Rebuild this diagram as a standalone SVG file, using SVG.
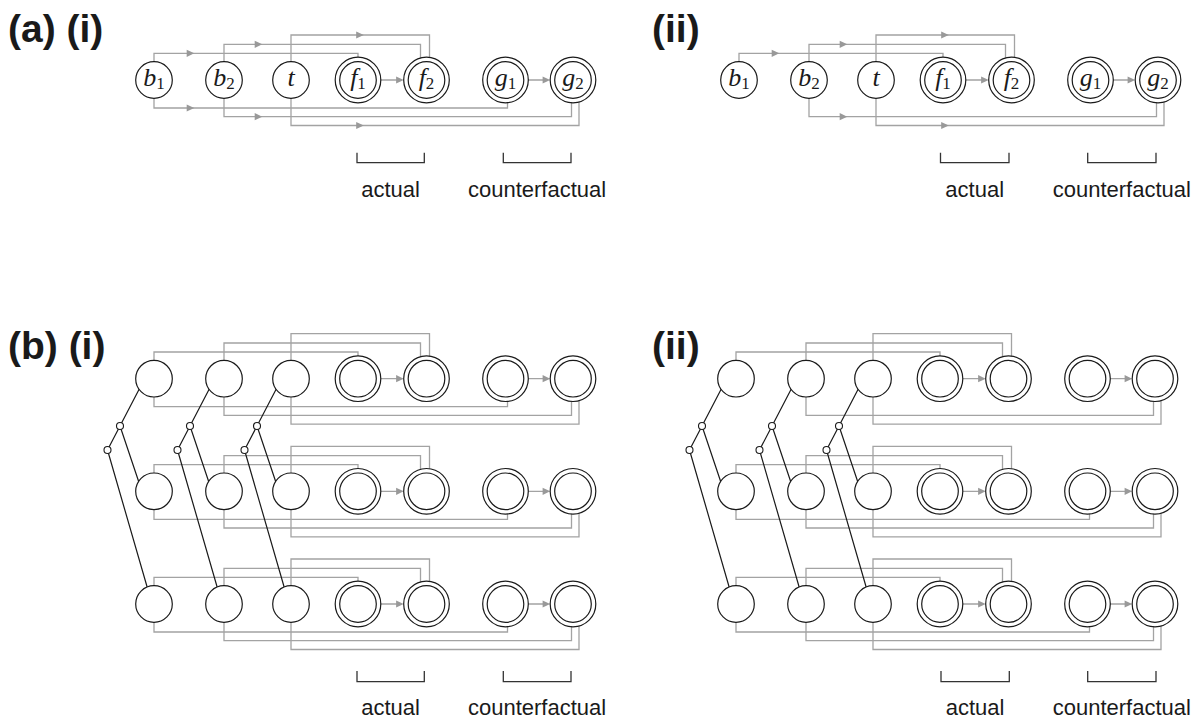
<svg xmlns="http://www.w3.org/2000/svg" xmlns:xlink="http://www.w3.org/1999/xlink" width="1200" height="720" viewBox="0 0 1200 720">
<style>
.e{fill:none;stroke:#a3a3a3;stroke-width:1.3}
.k{fill:none;stroke:#1a1a1a;stroke-width:1.2}
.br{fill:none;stroke:#333;stroke-width:1.3}
.ttl{font-family:"Liberation Sans",Arial,sans-serif;font-weight:bold;font-size:39px;fill:#1a1a1a}
.cap{font-family:"Liberation Sans",Arial,sans-serif;font-size:22px;fill:#1a1a1a;text-anchor:middle}
.ml{font-family:"Liberation Serif","Times New Roman",serif;font-style:italic;font-size:26px;fill:#1a1a1a;text-anchor:middle}
.sub{font-style:normal;font-size:17px}
</style>
<defs>
<circle id="sn" r="18.3" fill="#fff" stroke="#1a1a1a" stroke-width="1.2"/>
<g id="dn" fill="#fff" stroke="#1a1a1a" stroke-width="1.2"><circle r="22.8"/><circle r="18.3"/></g>
<circle id="tn" r="3.5" fill="#fff" stroke="#1a1a1a" stroke-width="1.1"/>
<path id="ah" d="M3.8,0 L-3.8,-3.6 L-3.8,3.6 Z" fill="#999"/>
</defs>
<rect width="1200" height="720" fill="#fff"/>

<g id="titles">
<text class="ttl" x="8" y="42">(a) (i)</text>
<text class="ttl" x="652" y="42">(ii)</text>
<text class="ttl" x="8" y="359">(b) (i)</text>
<text class="ttl" x="652" y="359">(ii)</text>
</g>

<g id="connectors">
<!-- (a)(i) -->
<path class="e" d="M154,80 V53.3 H358 V80 M224,80 V44.3 H420.5 V80 M291,80 V35 H429.5 V80 M154,80 V108 H507.5 V80 M224,80 V116.7 H571.5 V80 M291,80 V125.5 H579 V80 M358,80 H400 M505.5,80 H547"/>
<use xlink:href="#ah" x="190.5" y="53.3"/><use xlink:href="#ah" x="258.5" y="44.3"/><use xlink:href="#ah" x="360" y="35"/>
<use xlink:href="#ah" x="190.5" y="108"/><use xlink:href="#ah" x="258.5" y="116.7"/><use xlink:href="#ah" x="360" y="125.5"/>
<use xlink:href="#ah" x="399.9" y="80"/><use xlink:href="#ah" x="546.4" y="80"/>
<!-- (a)(ii) -->
<path class="e" d="M739,80 V53.3 H943 V80 M809,80 V44.3 H1005.5 V80 M876,80 V35 H1014.5 V80 M809,80 V116.7 H1156.5 V80 M876,80 V125.5 H1164 V80 M943,80 H985 M1090.5,80 H1132"/>
<use xlink:href="#ah" x="775.5" y="53.3"/><use xlink:href="#ah" x="843.5" y="44.3"/><use xlink:href="#ah" x="945" y="35"/>
<use xlink:href="#ah" x="843.5" y="116.7"/><use xlink:href="#ah" x="945" y="125.5"/>
<use xlink:href="#ah" x="984.9" y="80"/><use xlink:href="#ah" x="1131.4" y="80"/>
<!-- (b)(i) rows -->
<path class="e" d="M154,378.7 V352 H358 V378.7 M224,378.7 V343 H420.5 V378.7 M291,378.7 V333.7 H429.5 V378.7 M154,378.7 V406.7 H507.5 V378.7 M224,378.7 V415.4 H571.5 V378.7 M291,378.7 V424.2 H579 V378.7 M358,378.7 H400 M505.5,378.7 H547"/>
<path class="e" d="M154,491.3 V464.6 H358 V491.3 M224,491.3 V455.6 H420.5 V491.3 M291,491.3 V446.3 H429.5 V491.3 M154,491.3 V519.3 H507.5 V491.3 M224,491.3 V528 H571.5 V491.3 M291,491.3 V536.8 H579 V491.3 M358,491.3 H400 M505.5,491.3 H547"/>
<path class="e" d="M154,604 V577.3 H358 V604 M224,604 V568.3 H420.5 V604 M291,604 V559 H429.5 V604 M154,604 V632 H507.5 V604 M224,604 V640.7 H571.5 V604 M291,604 V649.5 H579 V604 M358,604 H400 M505.5,604 H547"/>
<use xlink:href="#ah" x="399.9" y="378.7"/><use xlink:href="#ah" x="546.4" y="378.7"/>
<use xlink:href="#ah" x="399.9" y="491.3"/><use xlink:href="#ah" x="546.4" y="491.3"/>
<use xlink:href="#ah" x="399.9" y="604"/><use xlink:href="#ah" x="546.4" y="604"/>
<!-- (b)(ii) rows -->
<path class="e" d="M736,378.7 V352 H940 V378.7 M806,378.7 V343 H1002.5 V378.7 M873,378.7 V333.7 H1011.5 V378.7 M806,378.7 V415.4 H1153.5 V378.7 M873,378.7 V424.2 H1161 V378.7 M940,378.7 H982 M1087.5,378.7 H1129"/>
<path class="e" d="M736,491.3 V464.6 H940 V491.3 M806,491.3 V455.6 H1002.5 V491.3 M873,491.3 V446.3 H1011.5 V491.3 M736,491.3 V519.3 H1089.5 V491.3 M806,491.3 V528 H1153.5 V491.3 M873,491.3 V536.8 H1161 V491.3 M940,491.3 H982 M1087.5,491.3 H1129"/>
<path class="e" d="M736,604 V577.3 H940 V604 M806,604 V568.3 H1002.5 V604 M873,604 V559 H1011.5 V604 M736,604 V632 H1089.5 V604 M806,604 V640.7 H1153.5 V604 M873,604 V649.5 H1161 V604 M940,604 H982 M1087.5,604 H1129"/>
<use xlink:href="#ah" x="981.9" y="378.7"/><use xlink:href="#ah" x="1128.4" y="378.7"/>
<use xlink:href="#ah" x="981.9" y="491.3"/><use xlink:href="#ah" x="1128.4" y="491.3"/>
<use xlink:href="#ah" x="981.9" y="604"/><use xlink:href="#ah" x="1128.4" y="604"/>
<!-- (b) trees -->
<path class="k" d="M107.5,450 L140.3,387 M120,426 L139.5,484 M107.5,450 L148,590 M177.5,450 L210.3,387 M190,426 L209.5,484 M177.5,450 L218,590 M244.5,450 L277.3,387 M257,426 L276.5,484 M244.5,450 L285,590"/>
<path class="k" d="M689.5,450 L722.3,387 M702,426 L721.5,484 M689.5,450 L730,590 M759.5,450 L792.3,387 M772,426 L791.5,484 M759.5,450 L800,590 M826.5,450 L859.3,387 M839,426 L858.5,484 M826.5,450 L867,590"/>
</g>

<g id="brackets">
<path class="br" d="M357,152.7 V162.7 H424.3 V152.7 M503.3,152.7 V162.7 H571 V152.7"/>
<path class="br" d="M940.5,152.7 V162.7 H1009 V152.7 M1087.7,152.7 V162.7 H1156 V152.7"/>
<path class="br" d="M357,671 V681.7 H424.3 V671 M503.3,671 V681.7 H571 V671"/>
<path class="br" d="M941,671 V681.7 H1009.3 V671 M1087.7,671 V681.7 H1156 V671"/>
<text class="cap" x="390.6" y="196.7">actual</text>
<text class="cap" x="537.1" y="196.7">counterfactual</text>
<text class="cap" x="974.7" y="196.7">actual</text>
<text class="cap" x="1121.8" y="196.7">counterfactual</text>
<text class="cap" x="390.6" y="715">actual</text>
<text class="cap" x="537.1" y="715">counterfactual</text>
<text class="cap" x="975.1" y="715">actual</text>
<text class="cap" x="1121.8" y="715">counterfactual</text>
</g>

<!-- (a)(i) nodes -->
<g id="a1-b1"><use xlink:href="#sn" x="154" y="80"/><text class="ml" x="154" y="86">b<tspan class="sub" dy="3">1</tspan></text></g>
<g id="a1-b2"><use xlink:href="#sn" x="224" y="80"/><text class="ml" x="224" y="86">b<tspan class="sub" dy="3">2</tspan></text></g>
<g id="a1-t"><use xlink:href="#sn" x="291" y="80"/><text class="ml" x="291" y="86">t</text></g>
<g id="a1-f1"><use xlink:href="#dn" x="358" y="80"/><text class="ml" x="358" y="86">f<tspan class="sub" dy="3">1</tspan></text></g>
<g id="a1-f2"><use xlink:href="#dn" x="426.5" y="80"/><text class="ml" x="426.5" y="86">f<tspan class="sub" dy="3">2</tspan></text></g>
<g id="a1-g1"><use xlink:href="#dn" x="505.5" y="80"/><text class="ml" x="505.5" y="86">g<tspan class="sub" dy="3">1</tspan></text></g>
<g id="a1-g2"><use xlink:href="#dn" x="573" y="80"/><text class="ml" x="573" y="86">g<tspan class="sub" dy="3">2</tspan></text></g>
<!-- (a)(ii) nodes -->
<g id="a2-b1"><use xlink:href="#sn" x="739" y="80"/><text class="ml" x="739" y="86">b<tspan class="sub" dy="3">1</tspan></text></g>
<g id="a2-b2"><use xlink:href="#sn" x="809" y="80"/><text class="ml" x="809" y="86">b<tspan class="sub" dy="3">2</tspan></text></g>
<g id="a2-t"><use xlink:href="#sn" x="876" y="80"/><text class="ml" x="876" y="86">t</text></g>
<g id="a2-f1"><use xlink:href="#dn" x="943" y="80"/><text class="ml" x="943" y="86">f<tspan class="sub" dy="3">1</tspan></text></g>
<g id="a2-f2"><use xlink:href="#dn" x="1011.5" y="80"/><text class="ml" x="1011.5" y="86">f<tspan class="sub" dy="3">2</tspan></text></g>
<g id="a2-g1"><use xlink:href="#dn" x="1090.5" y="80"/><text class="ml" x="1090.5" y="86">g<tspan class="sub" dy="3">1</tspan></text></g>
<g id="a2-g2"><use xlink:href="#dn" x="1158" y="80"/><text class="ml" x="1158" y="86">g<tspan class="sub" dy="3">2</tspan></text></g>

<!-- (b)(i) nodes -->
<g id="b1-r1-b1"><use xlink:href="#sn" x="154" y="378.7"/></g>
<g id="b1-r1-b2"><use xlink:href="#sn" x="224" y="378.7"/></g>
<g id="b1-r1-t"><use xlink:href="#sn" x="291" y="378.7"/></g>
<g id="b1-r1-f1"><use xlink:href="#dn" x="358" y="378.7"/></g>
<g id="b1-r1-f2"><use xlink:href="#dn" x="426.5" y="378.7"/></g>
<g id="b1-r1-g1"><use xlink:href="#dn" x="505.5" y="378.7"/></g>
<g id="b1-r1-g2"><use xlink:href="#dn" x="573" y="378.7"/></g>
<g id="b1-r2-b1"><use xlink:href="#sn" x="154" y="491.3"/></g>
<g id="b1-r2-b2"><use xlink:href="#sn" x="224" y="491.3"/></g>
<g id="b1-r2-t"><use xlink:href="#sn" x="291" y="491.3"/></g>
<g id="b1-r2-f1"><use xlink:href="#dn" x="358" y="491.3"/></g>
<g id="b1-r2-f2"><use xlink:href="#dn" x="426.5" y="491.3"/></g>
<g id="b1-r2-g1"><use xlink:href="#dn" x="505.5" y="491.3"/></g>
<g id="b1-r2-g2"><use xlink:href="#dn" x="573" y="491.3"/></g>
<g id="b1-r3-b1"><use xlink:href="#sn" x="154" y="604"/></g>
<g id="b1-r3-b2"><use xlink:href="#sn" x="224" y="604"/></g>
<g id="b1-r3-t"><use xlink:href="#sn" x="291" y="604"/></g>
<g id="b1-r3-f1"><use xlink:href="#dn" x="358" y="604"/></g>
<g id="b1-r3-f2"><use xlink:href="#dn" x="426.5" y="604"/></g>
<g id="b1-r3-g1"><use xlink:href="#dn" x="505.5" y="604"/></g>
<g id="b1-r3-g2"><use xlink:href="#dn" x="573" y="604"/></g>
<g id="b1-s1a"><use xlink:href="#tn" x="120" y="426"/></g>
<g id="b1-s1b"><use xlink:href="#tn" x="107.5" y="450"/></g>
<g id="b1-s2a"><use xlink:href="#tn" x="190" y="426"/></g>
<g id="b1-s2b"><use xlink:href="#tn" x="177.5" y="450"/></g>
<g id="b1-s3a"><use xlink:href="#tn" x="257" y="426"/></g>
<g id="b1-s3b"><use xlink:href="#tn" x="244.5" y="450"/></g>

<!-- (b)(ii) nodes -->
<g id="b2-r1-b1"><use xlink:href="#sn" x="736" y="378.7"/></g>
<g id="b2-r1-b2"><use xlink:href="#sn" x="806" y="378.7"/></g>
<g id="b2-r1-t"><use xlink:href="#sn" x="873" y="378.7"/></g>
<g id="b2-r1-f1"><use xlink:href="#dn" x="940" y="378.7"/></g>
<g id="b2-r1-f2"><use xlink:href="#dn" x="1008.5" y="378.7"/></g>
<g id="b2-r1-g1"><use xlink:href="#dn" x="1087.5" y="378.7"/></g>
<g id="b2-r1-g2"><use xlink:href="#dn" x="1155" y="378.7"/></g>
<g id="b2-r2-b1"><use xlink:href="#sn" x="736" y="491.3"/></g>
<g id="b2-r2-b2"><use xlink:href="#sn" x="806" y="491.3"/></g>
<g id="b2-r2-t"><use xlink:href="#sn" x="873" y="491.3"/></g>
<g id="b2-r2-f1"><use xlink:href="#dn" x="940" y="491.3"/></g>
<g id="b2-r2-f2"><use xlink:href="#dn" x="1008.5" y="491.3"/></g>
<g id="b2-r2-g1"><use xlink:href="#dn" x="1087.5" y="491.3"/></g>
<g id="b2-r2-g2"><use xlink:href="#dn" x="1155" y="491.3"/></g>
<g id="b2-r3-b1"><use xlink:href="#sn" x="736" y="604"/></g>
<g id="b2-r3-b2"><use xlink:href="#sn" x="806" y="604"/></g>
<g id="b2-r3-t"><use xlink:href="#sn" x="873" y="604"/></g>
<g id="b2-r3-f1"><use xlink:href="#dn" x="940" y="604"/></g>
<g id="b2-r3-f2"><use xlink:href="#dn" x="1008.5" y="604"/></g>
<g id="b2-r3-g1"><use xlink:href="#dn" x="1087.5" y="604"/></g>
<g id="b2-r3-g2"><use xlink:href="#dn" x="1155" y="604"/></g>
<g id="b2-s1a"><use xlink:href="#tn" x="702" y="426"/></g>
<g id="b2-s1b"><use xlink:href="#tn" x="689.5" y="450"/></g>
<g id="b2-s2a"><use xlink:href="#tn" x="772" y="426"/></g>
<g id="b2-s2b"><use xlink:href="#tn" x="759.5" y="450"/></g>
<g id="b2-s3a"><use xlink:href="#tn" x="839" y="426"/></g>
<g id="b2-s3b"><use xlink:href="#tn" x="826.5" y="450"/></g>
</svg>
